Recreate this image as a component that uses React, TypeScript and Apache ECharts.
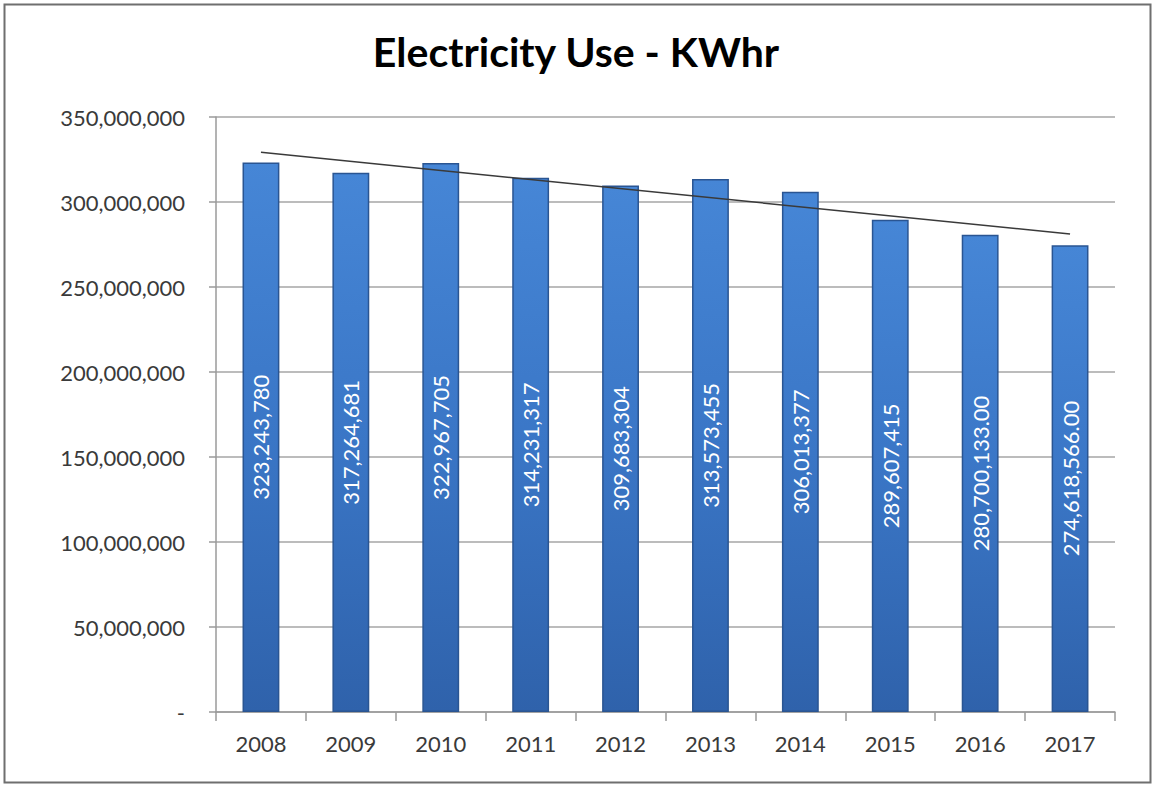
import React, { useEffect, useRef } from "react";
import * as echarts from "echarts";

const categories = ["2008", "2009", "2010", "2011", "2012", "2013", "2014", "2015", "2016", "2017"];
const usageKWhr = [323243780, 317264681, 322967705, 314231317, 309683304, 313573455, 306013377, 289607415, 280700133, 274618566];
const barLabels = [
  "323,243,780", "317,264,681", "322,967,705", "314,231,317", "309,683,304",
  "313,573,455", "306,013,377", "289,607,415", "280,700,133.00", "274,618,566.00",
];
// Trendline endpoints (first and last category)
const trendline = [329200000, null, null, null, null, null, null, null, null, 281200000];

const FONT = "Lato, 'Open Sans', sans-serif";

export default function App() {
  const ref = useRef<HTMLDivElement>(null);
  useEffect(() => {
    document.body.style.margin = "0";
    const chart = echarts.init(ref.current!, null, { renderer: "svg" });
    chart.setOption({
      animation: false,
      backgroundColor: "#ffffff",
      textStyle: { fontFamily: FONT },
      title: {
        text: "Electricity Use - KWhr",
        left: "center",
        top: 26,
        textStyle: { fontFamily: FONT, fontSize: 41, fontWeight: "bold", color: "#000000" },
      },
      graphic: [
        {
          type: "rect",
          left: 2,
          top: 2,
          shape: { width: 1146, height: 778 },
          style: { fill: "none", stroke: "#6f6f6f", lineWidth: 2 },
          silent: true,
        },
      ],
      grid: { left: 216, right: 37, top: 117, bottom: 73 },
      xAxis: {
        type: "category",
        data: categories,
        axisLine: { lineStyle: { color: "#9a9a9a", width: 1.5 } },
        axisTick: { show: true, length: 9, lineStyle: { color: "#9a9a9a", width: 1.5 } },
        axisLabel: { fontFamily: FONT, fontSize: 22, color: "#3a3a3a", margin: 20 },
      },
      yAxis: {
        type: "value",
        min: 0,
        max: 350000000,
        interval: 50000000,
        axisLine: { show: true, lineStyle: { color: "#9a9a9a", width: 1.5 } },
        axisTick: { show: true, length: 7, lineStyle: { color: "#9a9a9a", width: 1.5 } },
        splitLine: { lineStyle: { color: "#a6a6a6", width: 1.5 } },
        axisLabel: {
          fontFamily: FONT,
          fontSize: 22,
          color: "#3a3a3a",
          margin: 31,
          formatter: (v: number) => (v === 0 ? "-" : v.toLocaleString("en-US")),
        },
      },
      series: [
        {
          type: "bar",
          data: usageKWhr,
          barWidth: "41%",
          itemStyle: {
            color: new echarts.graphic.LinearGradient(0, 0, 0, 1, [
              { offset: 0, color: "#4686d6" },
              { offset: 0.5, color: "#3a76c6" },
              { offset: 1, color: "#2f62ab" },
            ]),
            borderColor: "#2a5592",
            borderWidth: 1.5,
          },
          label: {
            show: true,
            position: "inside",
            rotate: 90,
            color: "#ffffff",
            fontFamily: FONT,
            fontSize: 22,
            formatter: (p: any) => barLabels[p.dataIndex],
          },
          z: 2,
        },
        {
          type: "line",
          data: trendline,
          connectNulls: true,
          symbol: "none",
          lineStyle: { color: "#3a3a3a", width: 1.5 },
          z: 3,
        },
      ],
    });
    return () => chart.dispose();
  }, []);
  return <div ref={ref} style={{ width: 1152, height: 785 }} />;
}
